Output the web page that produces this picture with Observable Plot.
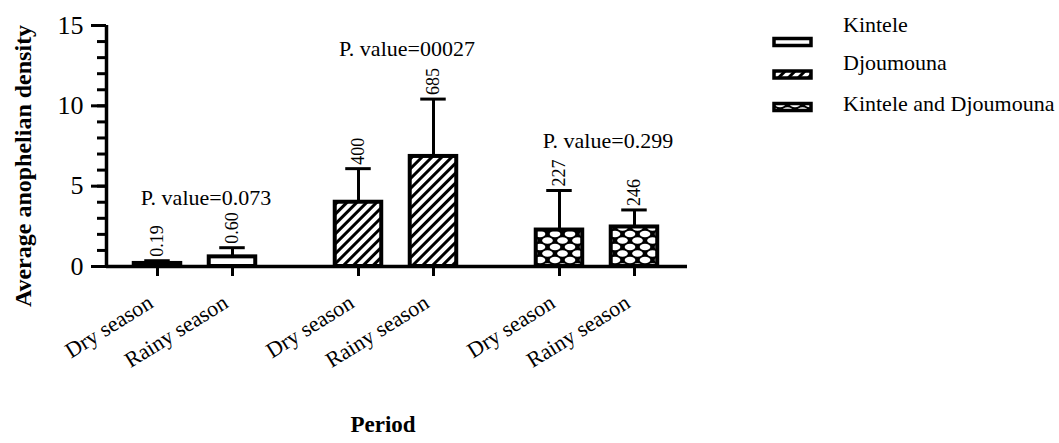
<!DOCTYPE html>
<html>
<head>
<meta charset="utf-8">
<script src="https://cdn.jsdelivr.net/npm/d3@7"></script>
<script src="https://cdn.jsdelivr.net/npm/@observablehq/plot@0.6"></script>
<style>
  html, body { margin: 0; padding: 0; background: white; }
  #wrap { position: relative; width: 1059px; height: 443px; font-family: 'Liberation Serif', 'Times New Roman', serif; color: black; }
  #legend { position: absolute; left: 0; top: 0; width: 1059px; height: 443px; pointer-events: none; }
</style>
</head>
<body>
<div id="wrap"></div>
<script>
// ---- data ----
const sites = ["Kintele", "Djoumouna", "Kintele and Djoumouna"];
const seasons = ["Dry season", "Rainy season"];
const means = [0.19, 0.60, 4.00, 6.85, 2.27, 2.46];
const errors = [0.17, 0.57, 2.09, 3.57, 2.46, 1.06];
const valueLabels = ["0.19", "0.60", "400", "685", "227", "246"];
const pValues = ["P. value=0.073", "P. value=00027", "P. value=0.299"];
const yTicks = [0, 5, 10, 15];
const yLabel = "Average anophelian density";
const xLabel = "Period";

// ---- layout helpers ----
const GROUP_STEP = 2.68, HALF = 0.31, CAP = 0.17;
const xDomain = [-0.68, 7.067];
const fills = {"Kintele": "white", "Djoumouna": "url(#hatch)", "Kintele and Djoumouna": "url(#mesh)"};

const rows = [];
sites.forEach((site, g) => seasons.forEach((season, s) => {
  const i = g * 2 + s;
  rows.push({site, season, mean: means[i], top: means[i] + errors[i], label: valueLabels[i], pos: g * GROUP_STEP + s});
}));
const groups = sites.map((site, g) => ({
  site, p: pValues[g], pos: g * GROUP_STEP + 0.5,
  top: d3.max(rows.filter(r => r.site === site), r => r.top)
}));

const plot = Plot.plot({
  width: 1059, height: 443,
  marginLeft: 106, marginRight: 372, marginTop: 25, marginBottom: 177,
  style: {fontFamily: "'Liberation Serif', 'Times New Roman', serif", fontSize: "22px", background: "white", color: "black", overflow: "visible"},
  x: {domain: xDomain, axis: null, label: null},
  y: {domain: [0, 15], axis: null, label: null},
  color: {type: "identity"},
  marks: [
    Plot.axisY({ticks: d3.range(0, 16), tickSize: 9, strokeWidth: 3, tickFormat: () => "", label: null}),
    Plot.axisY({ticks: yTicks, tickSize: 15, tickPadding: 8, strokeWidth: 3, fontSize: 26, label: null}),
    Plot.axisX({ticks: rows.map(r => r.pos), tickSize: 10, strokeWidth: 3, tickFormat: () => "", label: null}),
    Plot.ruleX([xDomain[0]], {y1: 0, y2: 15, strokeWidth: 3.5}),
    Plot.ruleY([0], {strokeWidth: 3.5}),
    Plot.ruleX(rows, {x: "pos", y1: "mean", y2: "top", strokeWidth: 3}),
    Plot.ruleY(rows, {y: "top", x1: r => r.pos - CAP, x2: r => r.pos + CAP, strokeWidth: 3}),
    Plot.rect(rows, {x1: r => r.pos - HALF, x2: r => r.pos + HALF, y1: 0, y2: "mean", fill: r => fills[r.site], stroke: "black", strokeWidth: 4}),
    Plot.text(rows, {x: "pos", y: "top", text: "label", rotate: -90, textAnchor: "start", dy: -4, fontSize: 18}),
    Plot.text(groups, {x: "pos", y: "top", text: "p", dx: 11, dy: -50, fontSize: 22}),
    Plot.text(rows, {x: "pos", y: () => 0, text: "season", rotate: -32, textAnchor: "end", lineAnchor: "bottom", dx: -3, dy: 40, fontSize: 22}),
    Plot.text([yLabel], {frameAnchor: "left", rotate: -90, textAnchor: "middle", dx: -83, dy: 20, fontWeight: "bold", fontSize: 24}),
    Plot.text([xLabel], {frameAnchor: "bottom", textAnchor: "middle", dx: -14, dy: 165, fontWeight: "bold", fontSize: 23})
  ]
});

const defsHTML = `
  <pattern id="hatch" width="7" height="7" patternUnits="userSpaceOnUse" patternTransform="rotate(45)">
    <rect width="7" height="7" fill="white"/>
    <line x1="3.5" y1="-1" x2="3.5" y2="8" stroke="black" stroke-width="3"/>
  </pattern>
  <pattern id="mesh" width="15" height="13" patternUnits="userSpaceOnUse">
    <rect width="15" height="13" fill="black"/>
    <ellipse cx="0" cy="0" rx="5.3" ry="3.2" fill="white"/>
    <ellipse cx="15" cy="0" rx="5.3" ry="3.2" fill="white"/>
    <ellipse cx="0" cy="13" rx="5.3" ry="3.2" fill="white"/>
    <ellipse cx="15" cy="13" rx="5.3" ry="3.2" fill="white"/>
    <ellipse cx="7.5" cy="6.5" rx="5.3" ry="3.2" fill="white"/>
  </pattern>`;
const defs = document.createElementNS("http://www.w3.org/2000/svg", "defs");
defs.innerHTML = defsHTML;
plot.insertBefore(defs, plot.firstChild);

const wrap = document.getElementById("wrap");
wrap.appendChild(plot);

// ---- legend ----
const legendSwatchY = [37, 69.5, 102];
const legendTextY = [32, 70, 111];
const leg = d3.select(wrap).append("svg").attr("id", "legend").attr("width", 1059).attr("height", 443);
leg.append("defs").html(defsHTML.replace('id="hatch"', 'id="hatchL"').replace('id="mesh"', 'id="meshL"'));
const legFills = {"Kintele": "white", "Djoumouna": "url(#hatchL)", "Kintele and Djoumouna": "url(#meshL)"};
sites.forEach((site, i) => {
  leg.append("rect").attr("x", 774).attr("y", legendSwatchY[i] + 1.5).attr("width", 37).attr("height", 7)
    .attr("fill", legFills[site]).attr("stroke", "black").attr("stroke-width", 3.5);
  leg.append("text").attr("x", 843).attr("y", legendTextY[i]).attr("font-size", 22)
    .attr("font-family", "'Liberation Serif', 'Times New Roman', serif").text(site);
});
</script>
</body>
</html>
